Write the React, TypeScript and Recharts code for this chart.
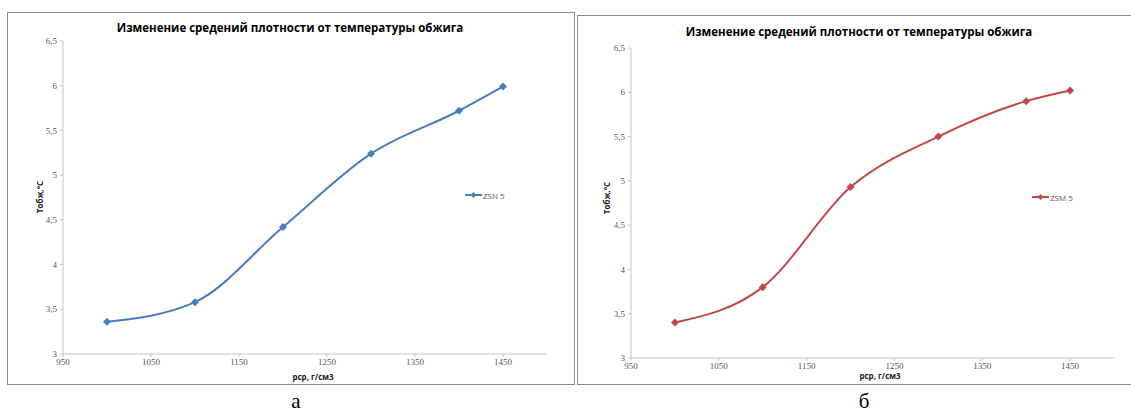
import { LineChart, Line, XAxis, YAxis } from 'recharts';

const densities = [1000, 1100, 1200, 1300, 1400, 1450];
const zsnValues = [3.36, 3.58, 4.42, 5.24, 5.72, 5.99];
const zsmValues = [3.4, 3.8, 4.93, 5.5, 5.9, 6.02];
const xTicks = [950, 1050, 1150, 1250, 1350, 1450];
const yTicks = [3, 3.5, 4, 4.5, 5, 5.5, 6, 6.5];

const chartTitle = 'Изменение средений плотности от температуры обжига';
const yTitle = 'Тобж,°С';
const xTitle = 'рср, г/см3';

const tickStyle = { fontSize: 9, fill: '#595959', fontFamily: '"Liberation Serif", serif' };
const axisGray = '#c4c4c4';

const Diamond = (props: any) => {
  const { cx, cy, fill } = props;
  if (cx == null || cy == null) return null;
  const r = 4;
  return (
    <polygon
      key={`d-${cx}-${cy}`}
      points={`${cx},${cy - r} ${cx + r},${cy} ${cx},${cy + r} ${cx - r},${cy}`}
      fill={fill}
    />
  );
};

interface PanelProps {
  left: number;
  top: number;
  width: number;
  height: number;
  values: number[];
  name: string;
  color: string;
  plot: { top: number; right: number; yw: number; xh: number };
  titlePos: [number, number];
  yTitlePos: [number, number];
  xTitlePos: [number, number];
  legendPos: [number, number];
}

const Panel = ({ left, top, width, height, values, name, color, plot, titlePos, yTitlePos, xTitlePos, legendPos }: PanelProps) => {
  const data = densities.map((x, i) => ({ x, y: values[i] }));
  const w = width - 2;
  const h = height - 2;
  return (
    <div
      style={{
        position: 'absolute',
        left,
        top,
        width: w,
        height: h,
        border: '1px solid #8c8c8c',
        background: '#fff',
      }}
    >
      <LineChart width={w} height={h} data={data} margin={{ top: plot.top, right: plot.right, bottom: 0, left: 0 }}>
        <XAxis
          type="number"
          dataKey="x"
          domain={[950, 1500]}
          ticks={xTicks}
          interval={0}
          allowDataOverflow
          height={plot.xh}
          tick={tickStyle}
          tickSize={3}
          tickMargin={2}
          axisLine={{ stroke: axisGray }}
          tickLine={{ stroke: axisGray }}
        />
        <YAxis
          type="number"
          domain={[3, 6.5]}
          ticks={yTicks}
          interval={0}
          width={plot.yw}
          tick={tickStyle}
          tickSize={3}
          tickMargin={3}
          tickFormatter={(v: number) => String(v).replace('.', ',')}
          axisLine={{ stroke: axisGray }}
          tickLine={{ stroke: axisGray }}
        />
        <Line
          type="monotone"
          dataKey="y"
          name={name}
          stroke={color}
          strokeWidth={2}
          dot={<Diamond fill={color} />}
          activeDot={false}
          isAnimationActive={false}
        />
      </LineChart>
      <div
        style={{
          position: 'absolute',
          left: titlePos[0],
          top: titlePos[1],
          transform: 'translate(-50%, -50%)',
          whiteSpace: 'nowrap',
          fontFamily: '"Open Sans", sans-serif',
          fontWeight: 700,
          fontSize: 11.5,
          color: '#000',
        }}
      >
        {chartTitle}
      </div>
      <div
        style={{
          position: 'absolute',
          left: yTitlePos[0],
          top: yTitlePos[1],
          transform: 'translate(-50%, -50%) rotate(-90deg)',
          whiteSpace: 'nowrap',
          fontFamily: '"Open Sans", sans-serif',
          fontWeight: 700,
          fontSize: 8,
          color: '#222',
        }}
      >
        {yTitle}
      </div>
      <div
        style={{
          position: 'absolute',
          left: xTitlePos[0],
          top: xTitlePos[1],
          transform: 'translate(-50%, -50%)',
          whiteSpace: 'nowrap',
          fontFamily: '"Open Sans", sans-serif',
          fontWeight: 700,
          fontSize: 8,
          color: '#222',
        }}
      >
        {xTitle}
      </div>
      <div
        style={{
          position: 'absolute',
          left: legendPos[0],
          top: legendPos[1] - 6,
          display: 'flex',
          alignItems: 'center',
          whiteSpace: 'nowrap',
          fontFamily: '"Open Sans", sans-serif',
          fontSize: 8,
          color: '#595959',
        }}
      >
        <svg width={17} height={12}>
          <line x1={0} y1={6} x2={17} y2={6} stroke={color} strokeWidth={2} />
          <polygon points="8.5,3 11.5,6 8.5,9 5.5,6" fill={color} />
        </svg>
        <span style={{ marginLeft: 1 }}>{name}</span>
      </div>
    </div>
  );
};

const captionStyle = {
  position: 'absolute' as const,
  top: 390,
  height: 22,
  lineHeight: '22px',
  transform: 'translateX(-50%)',
  fontFamily: '"Liberation Serif", serif',
  fontSize: 21,
  color: '#000',
};

export default function App() {
  return (
    <div style={{ position: 'absolute', left: 0, top: 0, width: 1131, height: 414, background: '#fff', overflow: 'hidden' }}>
      <Panel
        left={7}
        top={12}
        width={568}
        height={373}
        values={zsnValues}
        name="ZSN 5"
        color="#4a7ebb"
        plot={{ top: 28, right: 27, yw: 55, xh: 30 }}
        titlePos={[282, 14]}
        yTitlePos={[31, 184]}
        xTitlePos={[305, 363]}
        legendPos={[457, 182]}
      />
      <Panel
        left={577}
        top={15}
        width={556}
        height={370}
        values={zsmValues}
        name="ZSM 5"
        color="#be4b48"
        plot={{ top: 32, right: 18, yw: 53, xh: 26 }}
        titlePos={[281, 15]}
        yTitlePos={[28, 182]}
        xTitlePos={[302, 359]}
        legendPos={[454, 181]}
      />
      <div style={{ ...captionStyle, left: 296 }}>а</div>
      <div style={{ ...captionStyle, left: 864 }}>б</div>
    </div>
  );
}
